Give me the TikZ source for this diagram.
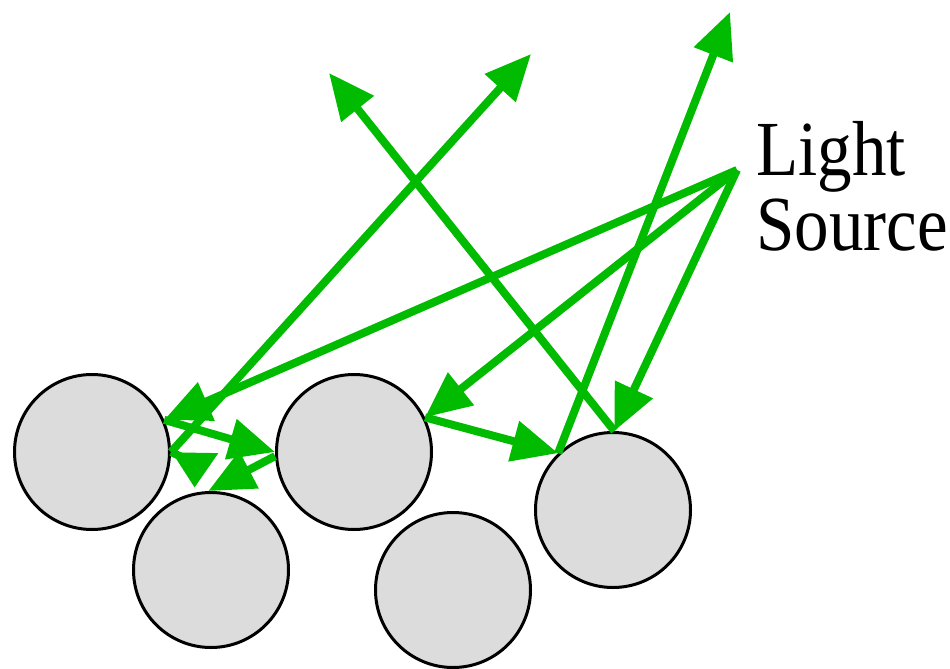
\documentclass[tikz,border=0pt]{standalone}
\usepackage{fontspec}
\setmainfont{Liberation Serif}
\usetikzlibrary{arrows.meta}
\definecolor{raygreen}{RGB}{0,187,0}
\definecolor{grainfill}{RGB}{220,220,220}
\begin{document}
\begin{tikzpicture}[x=1pt,y=-1pt,
  grain/.style={circle,draw=black,line width=3pt,fill=grainfill,minimum size=155pt,inner sep=0pt},
  ray/.style={draw=raygreen,line width=8pt,line join=miter,-{Triangle[length=46pt,width=40pt]}},
  shortray/.style={ray,-{Triangle[length=35pt,width=44pt]}},
  lbl/.style={font=\fontsize{69}{74}\selectfont,inner sep=0pt,anchor=base west}]
\useasboundingbox (0,0) rectangle (950,669);
\node[grain] (c1) at (92,452) {};
\node[grain] (c2) at (211,570) {};
\node[grain] (c3) at (354,452) {};
\node[grain] (c4) at (453,590) {};
\node[grain] (c5) at (613,510) {};
\coordinate (ls) at (737,170);
\coordinate (t1) at (329,73);
\coordinate (t2) at (531,54);
\coordinate (t3) at (730,12);
\coordinate (k) at (195,463);
\node[lbl] (light) at (756,175) {\scalebox{1}[1.13]{Light}};
\node[lbl] (source) at (756,250) {\scalebox{1}[1.13]{Source}};
% rays
\draw[ray] (ls) -- (c1.24);
\draw[ray] (ls) -- (c3.26);
\draw[ray] (ls) -- (c5.89);
\draw[ray] (c1.24) -- (c3.180);
\draw[ray] (c3.183) -- (c2.92);
\draw[shortray] (c1.0) -- (k) -- ([yshift=5pt]c2.102);
\draw[ray] (c1.0) -- (t2);
\draw[ray] (c3.26) -- (c5.134);
\draw[ray] (c5.134) -- (t3);
\draw[ray] (c5.89) -- (t1);
\end{tikzpicture}
\end{document}
